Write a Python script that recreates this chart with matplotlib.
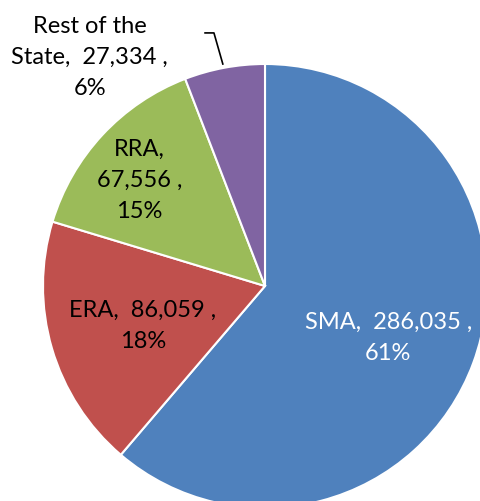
import matplotlib.pyplot as plt

regions = ['SMA', 'ERA', 'RRA', 'Rest of the\nState']
counts = [286035, 86059, 67556, 27334]
shares = [61, 18, 15, 6]
colors = ['#4F81BD', '#C0504D', '#9BBB59', '#8064A2']

plt.rcParams['font.family'] = ['Lato', 'DejaVu Sans']

fig = plt.figure(figsize=(4.8, 5.02), dpi=100)
# pie is bigger than the figure, clipped on the right and bottom
ax = fig.add_axes([43/480, -7/502, 444/480, 444/502])
ax.pie(counts, colors=colors, startangle=90, counterclock=False,
       wedgeprops=dict(edgecolor='white', linewidth=1.5))
ax.set_xlim(-1, 1)
ax.set_ylim(-1, 1)
ax.set_aspect('auto')

labels = [
    ('{},  {:,} ,\n{}%', 0.555, -0.23, 'white'),
    ('{},  {:,} ,\n{}%', -0.55, -0.175, 'black'),
    ('{},\n{:,} ,\n{}%', -0.565, 0.48, 'black'),
    ('{},  {:,} ,\n{}%', -0.79, 1.035, 'black'),
]
for (fmt, x, y, c), name, n, p in zip(labels, regions, counts, shares):
    ax.text(x, y, fmt.format(name, n, p), ha='center', va='center',
            color=c, fontsize=17, linespacing=1.6, clip_on=False)

# leader line for the small slice
ax.plot([-0.27, -0.23, -0.19], [1.14, 1.14, 1.0], color='black', lw=1.2, clip_on=False)

fig.savefig('out.png', dpi=100)
